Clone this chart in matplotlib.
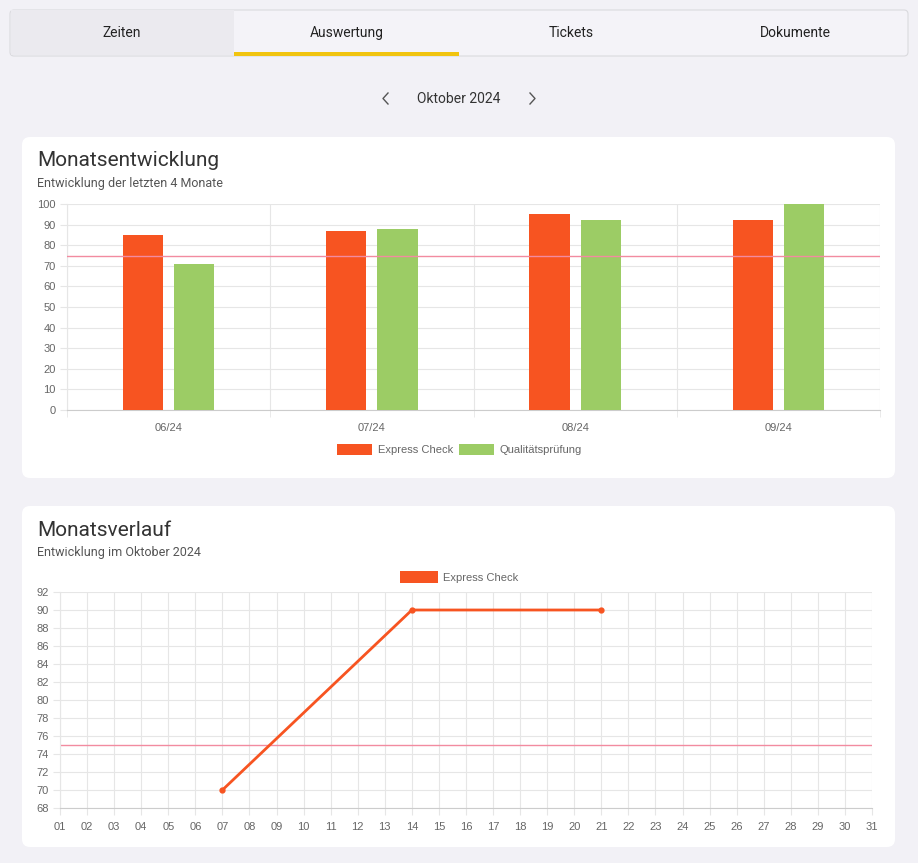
import numpy as np
import matplotlib.pyplot as plt
from matplotlib.patches import FancyBboxPatch, Rectangle

W, H = 918, 863

# Monatsentwicklung data
months = ['06/24', '07/24', '08/24', '09/24']
express = [85, 87, 95, 92]
quality = [71, 88, 92, 100]

# Monatsverlauf data
days = [7, 14, 21]
express_days = [70, 90, 90]
day_labels = ['%02d' % d for d in range(1, 32)]

threshold = 75

tabs = ['Zeiten', 'Auswertung', 'Tickets', 'Dokumente']

ORANGE = '#f75421'
GREEN = '#9ccc65'
PINK = '#f28ba0'
GRID = '#e6e6e6'
TICK = '#666666'
BG = '#f2f1f6'

plt.rcParams['font.family'] = ['Roboto', 'DejaVu Sans']


def px(l, t, r, b):
    return [l / W, 1 - b / H, (r - l) / W, (b - t) / H]


fig = plt.figure(figsize=(W / 100, H / 100), dpi=100)
fig.patch.set_facecolor(BG)

bg = fig.add_axes([0, 0, 1, 1])
bg.set_xlim(0, W)
bg.set_ylim(H, 0)
bg.axis('off')

# tab bar
bg.add_patch(FancyBboxPatch((10, 10), 898, 46, boxstyle='round,pad=0,rounding_size=4',
                            fc='#f4f3f8', ec='#dadade', lw=0.8))
bg.add_patch(Rectangle((10.5, 10.5), 223.5, 45, fc='#ebeaef', ec='none'))
bg.add_patch(Rectangle((234, 52), 225, 4, fc='#f1c40f', ec='none'))
for i, t in enumerate(tabs):
    bg.text(10 + 224.5 * i + 112, 33, t, ha='center', va='center', fontsize=10, color='#222222')

# month selector
bg.text(459, 99, 'Oktober 2024', ha='center', va='center', fontsize=10, color='#333333')
bg.plot([388, 383, 388], [93, 98.5, 104], color='#555555', lw=1)
bg.plot([530, 535, 530], [93, 98.5, 104], color='#555555', lw=1)

# cards
for top, bot in [(137, 478), (506, 847)]:
    bg.add_patch(FancyBboxPatch((22, top), 873, bot - top, boxstyle='round,pad=0,rounding_size=8',
                                fc='white', ec='none'))

bg.text(37, 161, 'Monatsentwicklung', ha='left', va='center', fontsize=15, color='#333333')
bg.text(37, 184, 'Entwicklung der letzten 4 Monate', ha='left', va='center', fontsize=9, color='#555555')
bg.text(37, 530, 'Monatsverlauf', ha='left', va='center', fontsize=15, color='#333333')
bg.text(37, 552, 'Entwicklung im Oktober 2024', ha='left', va='center', fontsize=9, color='#555555')

# legends
lfont = dict(fontsize=8, color=TICK, family=['Liberation Sans', 'DejaVu Sans'], va='center', ha='left')
bg.add_patch(Rectangle((337, 444), 35, 11, fc=ORANGE, ec='none'))
bg.text(378, 449.5, 'Express Check', **lfont)
bg.add_patch(Rectangle((459, 444), 35, 11, fc=GREEN, ec='none'))
bg.text(500, 449.5, 'Qualitätsprüfung', **lfont)
bg.add_patch(Rectangle((400, 571), 38, 12, fc=ORANGE, ec='none'))
bg.text(443, 577.5, 'Express Check', **lfont)

tickfont = ['Liberation Sans', 'DejaVu Sans']

# bar chart
ax1 = fig.add_axes(px(67, 204, 880, 410))
x = np.arange(len(months))
bw = 0.197
ax1.bar(x - 0.126, express, bw, color=ORANGE, zorder=3)
ax1.bar(x + 0.126, quality, bw, color=GREEN, zorder=3)
ax1.axhline(threshold, color=PINK, lw=1, zorder=4)
ax1.set_xlim(-0.5, len(months) - 0.5)
ax1.set_ylim(0, 100)
ax1.set_yticks(range(0, 101, 10))
ax1.set_xticks(x)
ax1.set_xticklabels(months)
ax1.set_xticks(np.arange(-0.5, len(months)), minor=True)
ax1.grid(True, axis='y', color=GRID, lw=0.8, zorder=0)
ax1.grid(True, axis='x', which='minor', color=GRID, lw=0.8, zorder=0)
ax1.tick_params(axis='x', which='major', length=0, pad=9)
ax1.tick_params(axis='x', which='minor', length=5, color=GRID)
ax1.tick_params(axis='y', length=5, color=GRID, pad=3)

# line chart
ax2 = fig.add_axes(px(60, 592, 872, 808))
ax2.plot(days, express_days, color=ORANGE, lw=2, marker='o', ms=3.5, zorder=3)
ax2.axhline(threshold, color=PINK, lw=1, zorder=2)
ax2.set_xlim(1, 31)
ax2.set_ylim(68, 92)
ax2.set_yticks(range(68, 93, 2))
ax2.set_xticks(range(1, 32))
ax2.set_xticklabels(day_labels)
ax2.grid(True, color=GRID, lw=0.8, zorder=0)
ax2.tick_params(axis='both', length=5, color=GRID, pad=3)
ax2.tick_params(axis='x', pad=5)

for ax in (ax1, ax2):
    ax.set_facecolor('white')
    for s in ('top', 'right'):
        ax.spines[s].set_visible(False)
    ax.spines['left'].set_color(GRID)
    ax.spines['bottom'].set_color('#cccccc')
    ax.set_axisbelow(True)
    for lab in ax.get_xticklabels() + ax.get_yticklabels():
        lab.set_family(tickfont)
        lab.set_fontsize(8)
        lab.set_color(TICK)

fig.savefig('out.png', dpi=100, facecolor=BG)
